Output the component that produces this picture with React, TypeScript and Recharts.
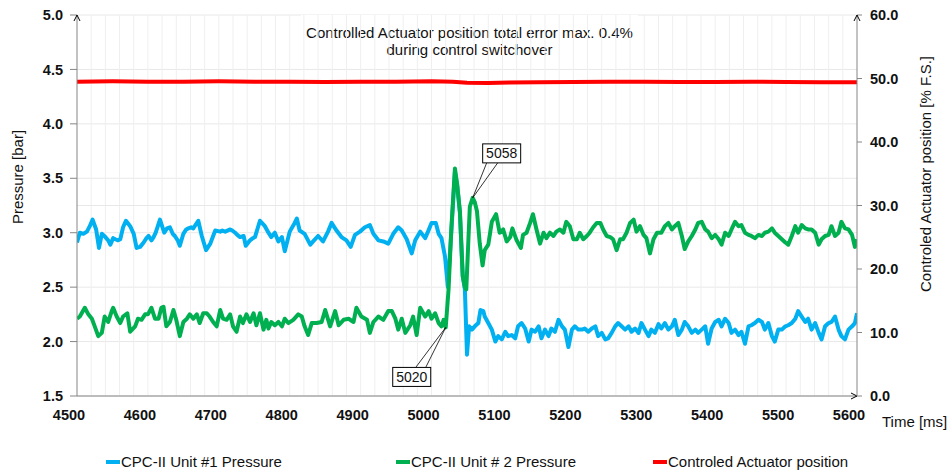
import React from 'react';
import {
  LineChart,
  Line,
  XAxis,
  YAxis,
  CartesianGrid,
  ReferenceLine,
  ReferenceArea,
  ReferenceDot
} from 'recharts';

const FONT = '"Liberation Sans", Arial, sans-serif';
const AXIS_GRAY = '#868686';
const GRID_GRAY = '#e8e8e8';
const BLUE = '#00b0f0';
const GREEN = '#00b050';
const RED = '#ff0000';

const timeTicks = [4500, 4600, 4700, 4800, 4900, 5000, 5100, 5200, 5300, 5400, 5500, 5600];
const pressureTicks = [1.5, 2.0, 2.5, 3.0, 3.5, 4.0, 4.5, 5.0];
const positionTicks = [0, 10, 20, 30, 40, 50, 60];

// [time ms, pressure bar]
const unit1Pressure: [number, number][] = [
  [4500, 2.91], [4504, 3.0], [4509, 2.99], [4514, 3.01], [4518, 3.06], [4522, 3.12], [4527, 3.03], [4531, 2.86],
  [4535, 2.99], [4540, 2.96], [4544, 2.93], [4547, 2.89], [4551, 2.95], [4554, 2.94], [4558, 2.93], [4561, 2.94],
  [4565, 3.05], [4569, 3.11], [4575, 3.06], [4580, 2.99], [4584, 2.86], [4589, 2.87], [4594, 2.91], [4598, 2.95],
  [4601, 2.97], [4605, 2.93], [4608, 2.96], [4611, 3.0], [4617, 3.12], [4623, 3.0], [4627, 3.04], [4631, 3.05],
  [4635, 2.99], [4638, 2.97], [4642, 2.93], [4645, 2.88], [4650, 2.99], [4654, 3.03], [4657, 3.04], [4661, 3.05],
  [4664, 3.04], [4671, 3.11], [4676, 2.97], [4682, 2.84], [4688, 2.9], [4692, 2.97], [4695, 3.02], [4702, 3.01],
  [4705, 3.02], [4709, 3.01], [4716, 3.03], [4719, 3.02], [4723, 3.0], [4726, 2.98], [4730, 2.96], [4735, 2.97],
  [4738, 2.88], [4744, 2.93], [4748, 2.95], [4751, 2.96], [4758, 3.11], [4765, 3.06], [4770, 3.0], [4774, 2.96],
  [4779, 3.0], [4784, 2.92], [4789, 2.96], [4793, 2.83], [4800, 3.01], [4807, 3.09], [4810, 3.13], [4814, 3.02],
  [4821, 2.99], [4829, 2.89], [4833, 2.92], [4840, 2.97], [4847, 2.92], [4854, 3.01], [4859, 3.09], [4866, 3.02],
  [4873, 2.96], [4880, 2.93], [4886, 2.87], [4892, 2.98], [4899, 3.01], [4906, 3.05], [4913, 3.07], [4918, 2.99],
  [4925, 2.93], [4932, 2.92], [4939, 2.9], [4946, 2.99], [4953, 3.05], [4958, 3.02], [4965, 2.94], [4972, 2.81],
  [4977, 2.93], [4984, 3.01], [4991, 2.95], [4995, 3.01], [5000, 3.09], [5006, 3.09], [5010, 2.99], [5014, 2.95],
  [5019, 2.78], [5023, 2.5], [5028, 3.02], [5033, 3.56], [5036, 3.44], [5040, 3.18], [5044, 2.6], [5047, 2.48],
  [5050, 1.88], [5053, 2.14], [5057, 2.11], [5061, 2.14], [5066, 2.17], [5069, 2.29], [5073, 2.28], [5075, 2.23],
  [5080, 2.17], [5085, 2.11], [5090, 2.0], [5094, 2.05], [5099, 2.02], [5104, 2.09], [5108, 2.05], [5113, 2.06],
  [5118, 2.03], [5122, 2.14], [5127, 2.17], [5132, 2.12], [5137, 2.0], [5141, 2.11], [5146, 2.09], [5151, 2.14],
  [5155, 2.03], [5160, 2.11], [5165, 2.05], [5169, 2.12], [5174, 2.09], [5179, 2.2], [5184, 2.14], [5188, 2.11],
  [5193, 1.95], [5198, 2.11], [5202, 2.14], [5207, 2.11], [5212, 2.11], [5216, 2.12], [5221, 2.09], [5226, 2.12],
  [5231, 2.14], [5235, 2.05], [5240, 2.08], [5245, 2.02], [5249, 2.03], [5254, 2.08], [5259, 2.14], [5263, 2.17],
  [5268, 2.14], [5273, 2.11], [5278, 2.14], [5282, 2.09], [5287, 2.12], [5292, 2.08], [5296, 2.17], [5301, 2.11],
  [5306, 2.05], [5310, 2.11], [5315, 2.08], [5320, 2.16], [5324, 2.12], [5329, 2.17], [5334, 2.11], [5339, 2.14],
  [5343, 2.2], [5348, 2.06], [5353, 2.11], [5357, 2.18], [5362, 2.14], [5367, 2.08], [5372, 2.11], [5376, 2.08],
  [5381, 2.11], [5386, 2.14], [5390, 1.98], [5395, 2.12], [5400, 2.18], [5405, 2.2], [5409, 2.14], [5414, 2.21],
  [5419, 2.17], [5423, 2.08], [5428, 2.11], [5433, 2.06], [5437, 2.09], [5442, 1.98], [5447, 2.14], [5451, 2.15],
  [5456, 2.17], [5461, 2.2], [5466, 2.18], [5470, 2.11], [5475, 2.17], [5480, 2.05], [5484, 2.0], [5489, 2.11],
  [5494, 2.11], [5499, 2.14], [5503, 2.15], [5508, 2.17], [5513, 2.21], [5517, 2.28], [5522, 2.23], [5527, 2.18],
  [5531, 2.21], [5536, 2.11], [5541, 2.17], [5546, 2.08], [5550, 2.02], [5555, 2.14], [5560, 2.17], [5564, 2.18],
  [5569, 2.23], [5574, 2.11], [5578, 2.05], [5583, 2.02], [5588, 2.11], [5593, 2.14], [5597, 2.17], [5600, 2.26]
];

const unit2Pressure: [number, number][] = [
  [4500, 2.21], [4504, 2.23], [4511, 2.31], [4516, 2.25], [4521, 2.21], [4525, 2.14], [4530, 2.05], [4535, 2.08],
  [4539, 2.23], [4544, 2.18], [4549, 2.28], [4551, 2.31], [4556, 2.23], [4561, 2.17], [4565, 2.23], [4571, 2.26],
  [4575, 2.09], [4582, 2.14], [4586, 2.21], [4591, 2.2], [4596, 2.25], [4600, 2.25], [4605, 2.31], [4610, 2.21],
  [4615, 2.21], [4619, 2.31], [4622, 2.32], [4626, 2.14], [4631, 2.18], [4636, 2.29], [4640, 2.2], [4645, 2.05],
  [4650, 2.18], [4655, 2.21], [4659, 2.25], [4664, 2.21], [4669, 2.25], [4673, 2.17], [4678, 2.26], [4683, 2.26],
  [4687, 2.23], [4692, 2.18], [4697, 2.14], [4702, 2.29], [4706, 2.21], [4711, 2.2], [4716, 2.25], [4720, 2.14],
  [4725, 2.09], [4730, 2.23], [4734, 2.17], [4739, 2.25], [4744, 2.18], [4749, 2.26], [4753, 2.15], [4758, 2.26],
  [4763, 2.11], [4767, 2.2], [4770, 2.12], [4774, 2.18], [4779, 2.15], [4784, 2.18], [4789, 2.14], [4793, 2.21],
  [4798, 2.17], [4805, 2.2], [4812, 2.25], [4817, 2.23], [4821, 2.14], [4826, 2.06], [4831, 2.17], [4838, 2.17],
  [4845, 2.18], [4850, 2.29], [4857, 2.14], [4864, 2.28], [4869, 2.15], [4876, 2.2], [4883, 2.21], [4890, 2.18],
  [4894, 2.31], [4901, 2.23], [4909, 2.2], [4913, 2.08], [4918, 2.18], [4925, 2.23], [4932, 2.2], [4939, 2.28],
  [4944, 2.28], [4949, 2.21], [4953, 2.11], [4958, 2.21], [4963, 2.08], [4970, 2.15], [4974, 2.23], [4979, 2.06],
  [4984, 2.31], [4991, 2.23], [4996, 2.28], [5000, 2.21], [5005, 2.26], [5010, 2.17], [5014, 2.14], [5017, 2.2],
  [5020, 2.13], [5024, 2.48], [5028, 3.05], [5033, 3.59], [5036, 3.45], [5040, 3.2], [5044, 2.6], [5047, 2.5],
  [5049, 2.48], [5052, 2.94], [5054, 3.24], [5058, 3.32], [5061, 3.28], [5064, 3.2], [5068, 2.9], [5072, 2.7],
  [5075, 2.84], [5080, 2.89], [5085, 3.1], [5091, 3.17], [5096, 3.0], [5101, 3.03], [5106, 2.92], [5111, 2.96],
  [5114, 3.04], [5120, 2.93], [5126, 2.86], [5129, 2.98], [5134, 3.0], [5139, 3.09], [5143, 3.17], [5148, 3.03],
  [5153, 2.9], [5158, 3.0], [5162, 2.95], [5167, 3.0], [5172, 2.97], [5176, 3.01], [5181, 3.03], [5186, 3.0],
  [5190, 3.1], [5195, 3.06], [5200, 2.94], [5205, 2.94], [5209, 3.0], [5214, 2.94], [5219, 2.97], [5223, 3.0],
  [5228, 3.05], [5233, 3.09], [5238, 3.09], [5242, 3.03], [5247, 2.97], [5252, 2.96], [5256, 2.94], [5261, 2.84],
  [5266, 2.94], [5270, 2.94], [5275, 3.0], [5280, 3.09], [5285, 3.12], [5289, 3.01], [5294, 3.06], [5299, 2.98],
  [5303, 2.95], [5308, 2.81], [5313, 2.94], [5318, 3.0], [5324, 3.0], [5329, 3.06], [5334, 3.09], [5339, 3.03],
  [5343, 3.06], [5348, 3.09], [5353, 2.97], [5357, 2.85], [5362, 2.92], [5367, 2.97], [5372, 3.03], [5376, 3.09],
  [5381, 3.1], [5386, 3.03], [5390, 3.01], [5395, 2.95], [5400, 2.98], [5405, 2.94], [5409, 2.89], [5414, 3.0],
  [5419, 2.97], [5423, 3.03], [5428, 3.1], [5433, 3.06], [5437, 3.07], [5442, 3.0], [5447, 2.98], [5451, 2.97],
  [5456, 2.95], [5461, 2.98], [5466, 2.97], [5470, 3.0], [5475, 3.01], [5480, 3.04], [5484, 3.0], [5489, 2.97],
  [5494, 2.94], [5499, 2.91], [5503, 2.89], [5508, 2.97], [5513, 3.06], [5517, 3.0], [5522, 3.07], [5527, 3.04],
  [5531, 3.03], [5536, 3.03], [5541, 3.0], [5546, 2.89], [5550, 2.94], [5555, 2.97], [5560, 2.98], [5564, 3.06],
  [5569, 2.97], [5574, 3.0], [5578, 3.1], [5583, 3.04], [5588, 3.03], [5593, 2.98], [5597, 2.87], [5600, 2.94]
];

// [time ms, actuator position % F.S.]
const actuatorPosition: [number, number][] = [
  [4500, 49.5], [4550, 49.55], [4600, 49.5], [4650, 49.5], [4700, 49.55], [4750, 49.5], [4800, 49.5],
  [4850, 49.45], [4900, 49.5], [4950, 49.5], [5000, 49.55], [5030, 49.5], [5050, 49.35], [5080, 49.3],
  [5110, 49.38], [5150, 49.42], [5200, 49.45], [5250, 49.5], [5300, 49.5], [5350, 49.45], [5400, 49.45],
  [5450, 49.5], [5500, 49.45], [5550, 49.4], [5600, 49.4]
];

const toRows = (pairs: [number, number][]) => pairs.map(([t, v]) => ({ t, v }));

// light vertical grid every 20 ms
const minorTimeGrid = Array.from({ length: 54 }, (_, i) => 4520 + i * 20);

const tickStyle = { fill: '#111', fontSize: 14.5, fontWeight: 'bold' as const };

const TimeTick = ({ x, y, payload }: any) => (
  <text x={x - 8} y={y} dy="0.71em" textAnchor="middle" fill="#111" fontSize={14.5} fontWeight="bold">
    {payload.value}
  </text>
);

const arrowUp = (x: number, y: number) => `M${x - 3},${y + 6} L${x},${y} L${x + 3},${y + 6}`;

const LeftAxisDecor = ({ viewBox }: any) => {
  const { x, y, width } = viewBox;
  const cx = x + 17;
  const cy = y + 162;
  return (
    <g>
      <path d={arrowUp(x + width, y)} stroke="#000" fill="none" strokeWidth={1} />
      <text x={cx} y={cy} transform={`rotate(-90 ${cx} ${cy})`} textAnchor="middle" dominantBaseline="central" fontSize={15} fill="#111">
        Pressure [bar]
      </text>
    </g>
  );
};

const RightAxisDecor = ({ viewBox }: any) => {
  const { x, y } = viewBox;
  const cx = x + 68;
  const cy = y + 159;
  return (
    <g>
      <path d={arrowUp(x, y)} stroke="#000" fill="none" strokeWidth={1} />
      <text x={cx} y={cy} transform={`rotate(-90 ${cx} ${cy})`} textAnchor="middle" dominantBaseline="central" fontSize={15} fill="#111">
        Controled Actuator position [% F.S.]
      </text>
    </g>
  );
};

const TimeAxisDecor = ({ viewBox }: any) => {
  const { x, y, width } = viewBox;
  const ex = x + width;
  return (
    <g>
      <path d={`M${ex - 6},${y - 3} L${ex},${y} L${ex - 6},${y + 3}`} stroke="#000" fill="none" strokeWidth={1} />
      <text x={ex + 25} y={y + 31} fontSize={15} fill="#111">Time [ms]</text>
    </g>
  );
};

const NoteText = ({ viewBox }: any) => {
  const { x, y, width } = viewBox;
  const mid = x + width / 2;
  return (
    <text textAnchor="middle" fontSize={15} fill="#111">
      <tspan x={mid} y={y + 23}>Controlled Actuator position total error max. 0.4%</tspan>
      <tspan x={mid} y={y + 40}>during control switchover</tspan>
    </text>
  );
};

// callout box with a thin wedge leader, offsets relative to the marked point
const Callout = ({ cx, cy, text, bx, by, lx1, lx2, ly }: any) => (
  <g>
    <line x1={cx} y1={cy} x2={cx + lx1} y2={cy + ly} stroke="#000" strokeWidth={0.8} />
    <line x1={cx} y1={cy} x2={cx + lx2} y2={cy + ly} stroke="#000" strokeWidth={0.8} />
    <rect x={cx + bx} y={cy + by} width={38} height={19} fill="#fff" stroke="#000" strokeWidth={1} />
    <text x={cx + bx + 19} y={cy + by + 14.5} textAnchor="middle" fontSize={14} fill="#111">{text}</text>
  </g>
);

const legendItems = [
  { label: 'CPC-II Unit #1 Pressure', color: BLUE, left: 106 },
  { label: 'CPC-II Unit # 2 Pressure', color: GREEN, left: 396 },
  { label: 'Controled Actuator position', color: RED, left: 653 }
];

export default function App() {
  return (
    <div style={{ position: 'absolute', left: 0, top: 0, width: 947, height: 470, background: '#fff', fontFamily: FONT }}>
      <LineChart width={947} height={470} margin={{ top: 15, right: 0, bottom: 34, left: 0 }}>
        <CartesianGrid yAxisId="left" vertical={false} stroke={GRID_GRAY} />
        {minorTimeGrid.map((t) => (
          <ReferenceLine key={t} x={t} yAxisId="left" stroke="#efefef" />
        ))}
        <ReferenceLine y={30} yAxisId="right" stroke={GRID_GRAY} />
        <ReferenceArea
          x1={4816}
          x2={5291}
          y1={4.513}
          y2={5.0}
          yAxisId="left"
          fill="#fff"
          fillOpacity={1}
          stroke="none"
          label={{ content: NoteText }}
        />
        <XAxis
          dataKey="t"
          type="number"
          domain={[4500, 5600]}
          ticks={timeTicks}
          allowDataOverflow
          height={40}
          stroke={AXIS_GRAY}
          tickLine={false}
          tickSize={6}
          tickMargin={8}
          tick={<TimeTick />}
          label={{ content: TimeAxisDecor }}
        />
        <YAxis
          yAxisId="left"
          domain={[1.5, 5]}
          ticks={pressureTicks}
          allowDataOverflow
          width={77}
          stroke={AXIS_GRAY}
          tickSize={7}
          tickMargin={7}
          tick={tickStyle}
          tickFormatter={(v: number) => v.toFixed(1)}
          label={{ content: LeftAxisDecor }}
        />
        <YAxis
          yAxisId="right"
          orientation="right"
          domain={[0, 60]}
          ticks={positionTicks}
          allowDataOverflow
          width={90}
          stroke={AXIS_GRAY}
          tickSize={5}
          tickMargin={8}
          tick={tickStyle}
          tickFormatter={(v: number) => v.toFixed(1)}
          label={{ content: RightAxisDecor }}
        />
        <Line
          yAxisId="left"
          data={toRows(unit1Pressure)}
          dataKey="v"
          name="CPC-II Unit #1 Pressure"
          type="linear"
          stroke={BLUE}
          strokeWidth={4}
          strokeLinejoin="round"
          dot={false}
          isAnimationActive={false}
        />
        <Line
          yAxisId="left"
          data={toRows(unit2Pressure)}
          dataKey="v"
          name="CPC-II Unit # 2 Pressure"
          type="linear"
          stroke={GREEN}
          strokeWidth={4}
          strokeLinejoin="round"
          dot={false}
          isAnimationActive={false}
        />
        <Line
          yAxisId="right"
          data={toRows(actuatorPosition)}
          dataKey="v"
          name="Controled Actuator position"
          type="linear"
          stroke={RED}
          strokeWidth={4}
          dot={false}
          isAnimationActive={false}
        />
        <ReferenceDot
          x={5020}
          y={2.13}
          yAxisId="left"
          r={0}
          shape={(p: any) => <Callout cx={p.cx} cy={p.cy} text="5020" bx={-53} by={40} lx1={-30} lx2={-20} ly={40} />}
        />
        <ReferenceDot
          x={5058}
          y={3.32}
          yAxisId="left"
          r={0}
          shape={(p: any) => <Callout cx={p.cx} cy={p.cy} text="5058" bx={10} by={-54} lx1={14} lx2={25} ly={-35} />}
        />
      </LineChart>
      {legendItems.map((item) => (
        <div key={item.label} style={{ position: 'absolute', left: item.left, top: 453, display: 'flex', alignItems: 'center', fontSize: 15, lineHeight: '17px', color: '#111', whiteSpace: 'nowrap' }}>
          <span style={{ display: 'inline-block', width: 14, height: 4, background: item.color, marginRight: 1 }} />
          {item.label}
        </div>
      ))}
    </div>
  );
}
